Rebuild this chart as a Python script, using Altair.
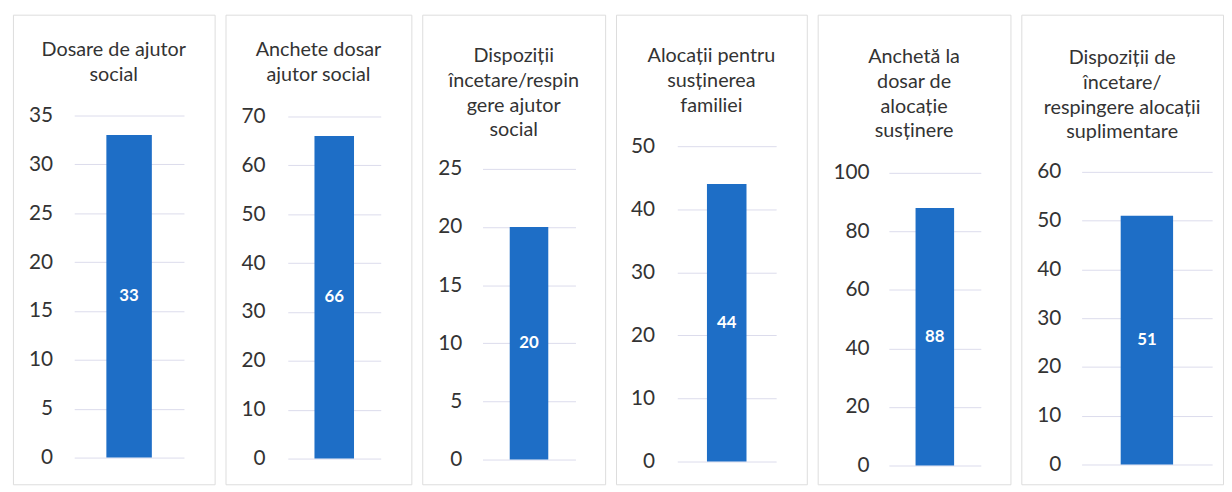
import altair as alt
import pandas as pd

# ---- data ----
titles = [
    ["Dosare de ajutor", "social"],
    ["Anchete dosar", "ajutor social"],
    ["Dispoziții", "încetare/respin", "gere ajutor", "social"],
    ["Alocații pentru", "susținerea", "familiei"],
    ["Anchetă la", "dosar de", "alocație", "susținere"],
    ["Dispoziții de", "încetare/", "respingere alocații", "suplimentare"],
]
values = [33, 66, 20, 44, 88, 51]
axis_max = [35, 70, 25, 50, 100, 60]
axis_ticks = [
    [0, 5, 10, 15, 20, 25, 30, 35],
    [0, 10, 20, 30, 40, 50, 60, 70],
    [0, 5, 10, 15, 20, 25],
    [0, 10, 20, 30, 40, 50],
    [0, 20, 40, 60, 80, 100],
    [0, 10, 20, 30, 40, 50, 60],
]

# ---- layout (pixels, per panel) ----
panel_w = [204, 188, 185, 193, 195, 204]
panel_h = 475
plot_x = [(62, 173), (63, 157), (61, 155), (62, 162), (72, 165), (61, 193)]
plot_y = [(448, 102), (449, 103), (450, 156), (452, 133), (456, 160), (455, 159)]
bar_w = [46, 40, 39, 40, 39, 53]
label_right = [40, 40, 40, 39, 52, 40]
title_off = [-71, -71, -127, -102, -128, -129]

BAR = "#1E6EC6"
FONT = "Lato"

panels = []
for i in range(6):
    df = pd.DataFrame({"cat": ["a"], "value": [values[i]]})
    xenc = alt.X("cat:N", axis=None,
                 scale=alt.Scale(range=list(plot_x[i]), paddingInner=0, paddingOuter=0))
    yscale = alt.Scale(domain=[0, axis_max[i]], range=list(plot_y[i]), nice=False, zero=True)
    yaxis = alt.Axis(values=axis_ticks[i], grid=True, ticks=False, tickSize=0, domain=False,
                     labelPadding=0, offset=-label_right[i], labelFontSize=21, labelFont=FONT,
                     labelColor="#333333", gridColor="#DCDCEC", gridWidth=1, title=None)
    bars = alt.Chart(df).mark_bar(size=bar_w[i], color=BAR).encode(
        x=xenc, y=alt.Y("value:Q", scale=yscale, axis=yaxis)
    )
    text = alt.Chart(df).transform_calculate(mid="datum.value / 2").mark_text(
        color="white", fontWeight="bold", fontSize=17, font=FONT, baseline="middle"
    ).encode(x=xenc, y=alt.Y("mid:Q", scale=yscale, axis=yaxis), text="value:Q")
    panel = alt.layer(bars, text).properties(
        width=panel_w[i], height=panel_h,
        title=alt.Title(text=titles[i], anchor="middle", frame="group", orient="top",
                        offset=title_off[i], fontSize=20, font=FONT,
                        fontWeight="normal", color="#333333", lineHeight=25),
    )
    panels.append(panel)

chart = alt.hconcat(*panels, spacing=9).properties(
    padding={"left": 4, "top": 3, "right": 0, "bottom": 0}
).configure_view(stroke="#E0E0E0", strokeWidth=1).configure(background="white")

chart.save("out.html", embed_options={"renderer": "svg", "actions": False})
